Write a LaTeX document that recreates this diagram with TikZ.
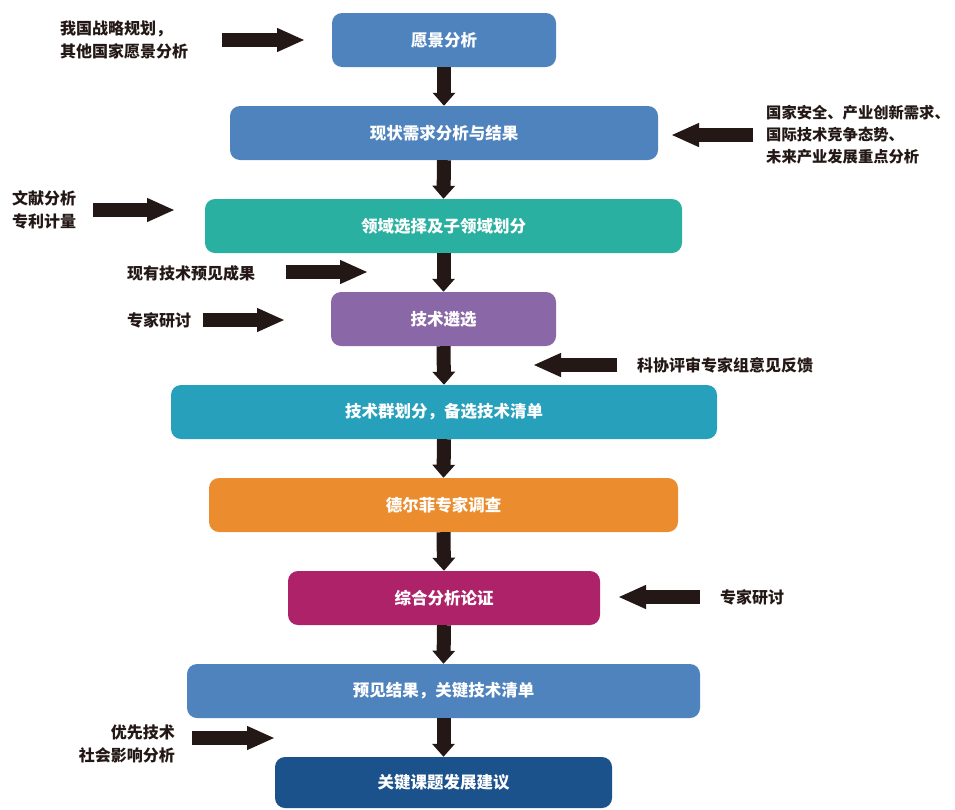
\documentclass[tikz,border=0pt]{standalone}
\usepackage{fontspec}
\setmainfont{Noto Sans CJK SC}
\usetikzlibrary{arrows.meta}
\definecolor{arrowc}{HTML}{231815}
\definecolor{cblue}{HTML}{4F83BE}
\definecolor{cteal}{HTML}{2AB0A0}
\definecolor{cpurple}{HTML}{8A67A6}
\definecolor{ccyan}{HTML}{26A0BB}
\definecolor{corange}{HTML}{EB8D2F}
\definecolor{cmagenta}{HTML}{AE2269}
\definecolor{cdark}{HTML}{1C528C}
\tikzset{
  stepbox/.style={rounded corners=10pt, minimum height=54pt, inner sep=0pt,
    text=white, font=\fontsize{16.5}{20}\selectfont\bfseries},
  sidetext/.style={inner sep=0pt, text=arrowc, font=\fontsize{16}{23}\selectfont\bfseries},
  downarrow/.style={draw=arrowc, line width=14pt, -{Triangle[length=13pt,width=22pt]}},
  sidearrow/.style={draw=arrowc, line width=14pt, -{Triangle[length=28pt,width=22pt]}},
}
\begin{document}
\begin{tikzpicture}[x=1pt,y=-1pt]
\useasboundingbox (0,0) rectangle (955,809);
% boxes
\node[stepbox, fill=cblue, minimum width=224pt] (b1) at (444,40) {愿景分析};
\node[stepbox, fill=cblue, minimum width=428pt] (b2) at (444,133) {现状需求分析与结果};
\node[stepbox, fill=cteal, minimum width=477pt] (b3) at (443.5,226) {领域选择及子领域划分};
\node[stepbox, fill=cpurple, minimum width=225pt] (b4) at (443.5,319) {技术遴选};
\node[stepbox, fill=ccyan, minimum width=546pt] (b5) at (444,412) {技术群划分，备选技术清单};
\node[stepbox, fill=corange, minimum width=469pt] (b6) at (443.5,505) {德尔菲专家调查};
\node[stepbox, fill=cmagenta, minimum width=312pt] (b7) at (444,598) {综合分析论证};
\node[stepbox, fill=cblue, minimum width=513pt] (b8) at (443.5,691) {预见结果，关键技术清单};
\node[stepbox, fill=cdark, minimum width=337pt, minimum height=51pt] (b9) at (443.5,782.5) {关键课题发展建议};
% down arrows
\draw[downarrow] (b1.south) -- (b2.north);
\draw[downarrow] (b2.south) -- (b3.north);
\draw[downarrow] (b3.south) -- (b4.north);
\draw[downarrow] (b4.south) -- (b5.north);
\draw[downarrow] (b5.south) -- (b6.north);
\draw[downarrow] (b6.south) -- (b7.north);
\draw[downarrow] (b7.south) -- (b8.north);
\draw[downarrow] (b8.south) -- (b9.north);
% side texts
\node[sidetext, anchor=west, align=left] (t1) at (60,40) {我国战略规划，\\其他国家愿景分析};
\node[sidetext, anchor=west, align=left, font=\fontsize{15.3}{22}\selectfont\bfseries] (t2) at (766,135) {国家安全、产业创新需求、\\国际技术竞争态势、\\未来产业发展重点分析};
\node[sidetext, anchor=west, align=left] (t3) at (12,210) {文献分析\\专利计量};
\node[sidetext, anchor=west] (t4) at (127,273) {现有技术预见成果};
\node[sidetext, anchor=west] (t5) at (127,320) {专家研讨};
\node[sidetext, anchor=west] (t6) at (637,365) {科协评审专家组意见反馈};
\node[sidetext, anchor=west] (t7) at (720,597) {专家研讨};
\node[sidetext, anchor=east, align=right] (t8) at (175,744) {优先技术\\社会影响分析};
% side arrow ends
\coordinate (a1s) at (222,40);  \coordinate (a1e) at (305,40);
\coordinate (a2s) at (753,135); \coordinate (a2e) at (671,135);
\coordinate (a3s) at (93,210);  \coordinate (a3e) at (175,210);
\coordinate (a4s) at (286,272); \coordinate (a4e) at (368,272);
\coordinate (a5s) at (203,320); \coordinate (a5e) at (285,320);
\coordinate (a6s) at (617,365); \coordinate (a6e) at (533,365);
\coordinate (a7s) at (700,597); \coordinate (a7e) at (618,597);
\coordinate (a8s) at (192,738); \coordinate (a8e) at (275,738);
\draw[sidearrow] (a1s) -- (a1e);
\draw[sidearrow] (a2s) -- (a2e);
\draw[sidearrow] (a3s) -- (a3e);
\draw[sidearrow] (a4s) -- (a4e);
\draw[sidearrow] (a5s) -- (a5e);
\draw[sidearrow] (a6s) -- (a6e);
\draw[sidearrow] (a7s) -- (a7e);
\draw[sidearrow] (a8s) -- (a8e);
\end{tikzpicture}
\end{document}
